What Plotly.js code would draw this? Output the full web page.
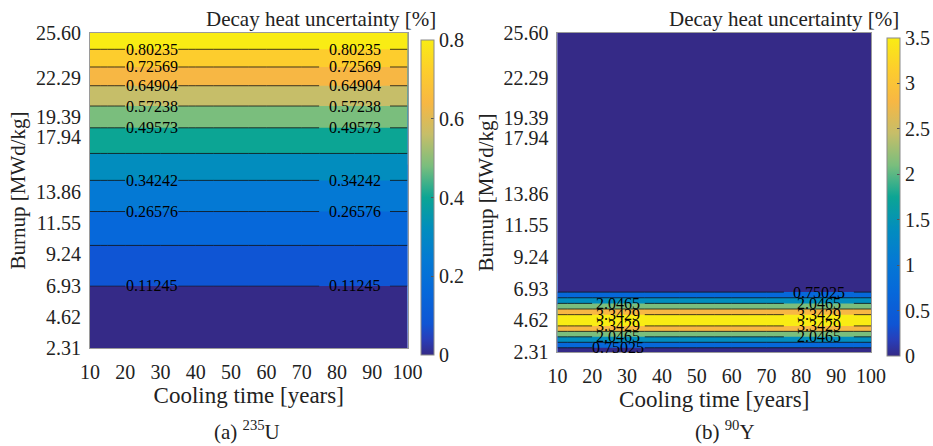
<!DOCTYPE html>
<html>
<head>
<meta charset="utf-8">
<script src="https://cdn.plot.ly/plotly-3.0.1.min.js"></script>
<style>html,body{margin:0;padding:0;background:#fff;}#chart{width:933px;height:446px;}</style>
</head>
<body>
<div id="chart"></div>
<script>
// ---- data ----
const coolingTime = [10, 15, 20, 25, 30, 35, 40, 45, 50, 55, 60, 65, 70, 75, 80, 85, 90, 95, 100];
const burnup = [2.31, 4.62, 6.93, 9.24, 11.55, 13.86, 17.94, 19.39, 22.29, 25.60];
// decay heat uncertainty [%] vs burnup (same for every cooling time)
const u235Uncertainty = [0.036, 0.070, 0.113, 0.169, 0.240, 0.310, 0.467, 0.531, 0.679, 0.873];
const y90Uncertainty = [0.25, 4.00, 0.36, 0.12, 0.10, 0.09, 0.08, 0.08, 0.07, 0.07];
const u235Levels = [0.11245, 0.18911, 0.26576, 0.34242, 0.41907, 0.49573, 0.57238, 0.64904, 0.72569, 0.80235];
const y90Levels = [0.75025, 1.3984, 2.0465, 2.6947, 3.3429];
// which label slots (0 = left, 1 = right) each crossing of each level carries
const u235LabelSlots = [[[0, 1]], [[]], [[0, 1]], [[0, 1]], [[]], [[0, 1]], [[0, 1]], [[0, 1]], [[0, 1]], [[0, 1]]];
const y90LabelSlots = [[[0], [1]], [[], []], [[0, 1], [0, 1]], [[], []], [[0, 1], [0, 1]]];
const xTickVals = [10, 20, 30, 40, 50, 60, 70, 80, 90, 100];
const yTickVals = burnup;

// ---- style ----
const FONT = 'Liberation Serif';
const labelGaps = [[20, 35], [75, 95]];   // cooling-time spans kept open for the labels
const parula = [
  [0.00, 'rgb(53,42,135)'],
  [0.05, 'rgb(40,62,185)'],
  [0.10, 'rgb(15,85,212)'],
  [0.20, 'rgb(6,104,218)'],
  [0.30, 'rgb(4,121,212)'],
  [0.40, 'rgb(2,141,190)'],
  [0.50, 'rgb(12,165,148)'],
  [0.60, 'rgb(122,190,125)'],
  [0.70, 'rgb(198,190,105)'],
  [0.80, 'rgb(247,183,68)'],
  [0.90, 'rgb(253,205,45)'],
  [1.00, 'rgb(249,236,20)']
];

function rowsOf(profile, rows, xs) {
  return rows.map(i => xs.map(() => profile[i]));
}

function crossings(profile, lv) {
  const out = [];
  for (let i = 0; i < profile.length - 1; i++) {
    const a = profile[i] - lv, b = profile[i + 1] - lv;
    if (a * b < 0) {
      out.push({i: i, b: burnup[i] + (lv - profile[i]) / (profile[i + 1] - profile[i]) * (burnup[i + 1] - burnup[i])});
    }
  }
  return out;
}

function pieces(slots) {
  const x0 = coolingTime[0], x1 = coolingTime[coolingTime.length - 1];
  const gaps = slots.map(s => labelGaps[s]).sort((a, b) => a[0] - b[0]);
  const res = [];
  let start = x0;
  gaps.forEach(g => { res.push([start, g[0]]); start = g[1]; });
  res.push([start, x1]);
  return res;
}

function panel(profile, levels, labelSlots, xa, ya, cmax, cbX, cbTop, cbLen, dtick) {
  const allRows = burnup.map((b, i) => i);
  const z = rowsOf(profile, allRows, coolingTime);
  const step = (levels[levels.length - 1] - levels[0]) / (levels.length - 1);
  const traces = [];
  const notes = [];
  // heatmap underneath, only to provide the continuous colorbar
  traces.push({
    type: 'heatmap', x: coolingTime, y: burnup, z: z, xaxis: xa, yaxis: ya,
    colorscale: parula, zmin: 0, zmax: cmax, hoverinfo: 'skip',
    colorbar: {
      x: cbX, xanchor: 'left', y: cbTop, yanchor: 'top', len: cbLen, lenmode: 'fraction',
      thickness: 13, xpad: 0, ypad: 0, outlinecolor: '#8a8a8a', outlinewidth: 1,
      dtick: dtick, tick0: 0, ticks: 'inside', ticklen: 3, tickcolor: '#555',
      tickfont: {family: FONT, size: 20, color: '#222'}
    }
  });
  // filled contour bands
  traces.push({
    type: 'contour', x: coolingTime, y: burnup, z: z, xaxis: xa, yaxis: ya,
    colorscale: parula, showscale: false, autocontour: false,
    contours: {start: levels[0], end: levels[levels.length - 1], size: step, coloring: 'fill', showlines: false},
    line: {width: 0}, hoverinfo: 'skip'
  });
  // contour lines with open gaps where the labels sit
  const lineTrace = (xs, rows, lv) => ({
    type: 'contour', x: xs, y: rows.map(r => burnup[r]), z: rowsOf(profile, rows, xs),
    xaxis: xa, yaxis: ya, showscale: false, autocontour: false,
    contours: {start: lv, end: lv + 0.5 * step, size: 10 * step, coloring: 'none', showlines: true, showlabels: false},
    line: {color: '#111', width: 0.8}, hoverinfo: 'skip'
  });
  levels.forEach((lv, k) => {
    const cr = crossings(profile, lv);
    const anyLabel = labelSlots[k].some(s => s.length);
    if (!anyLabel) {
      traces.push(lineTrace(coolingTime, allRows, lv));
      return;
    }
    cr.forEach((c, j) => {
      const slots = labelSlots[k][j] || [];
      pieces(slots).forEach(p => {
        const xs = coolingTime.filter(t => t >= p[0] && t <= p[1]);
        if (xs.length >= 2) traces.push(lineTrace(xs, [c.i, c.i + 1], lv));
      });
      slots.forEach(s => {
        notes.push({
          text: String(lv), xref: xa, yref: ya.replace('y', 'y'),
          x: (labelGaps[s][0] + labelGaps[s][1]) / 2, y: c.b,
          xanchor: 'center', yanchor: 'middle', showarrow: false,
          font: {family: FONT, size: 16, color: '#000'}
        });
      });
    });
  });
  return {traces: traces, notes: notes};
}

const pU = panel(u235Uncertainty, u235Levels, u235LabelSlots, 'x', 'y', 0.8, 421/933, 1 - 40/446, 315/446, 0.2);
const pY = panel(y90Uncertainty, y90Levels, y90LabelSlots, 'x2', 'y2', 3.5, 887/933, 1 - 38/446, 318/446, 0.5);
const data = pU.traces.concat(pY.traces);

function xAxis(domain, anchor) {
  return {
    domain: domain, anchor: anchor, range: [10, 100], tickvals: xTickVals,
    showline: true, mirror: true, linecolor: '#9a9a9a', linewidth: 1,
    showgrid: false, zeroline: false, ticks: '', ticklabelstandoff: 6,
    tickfont: {family: FONT, size: 20, color: '#222'},
    title: {text: 'Cooling time [years]', font: {family: FONT, size: 23, color: '#222'}, standoff: 4}
  };
}
function yAxis(domain, anchor) {
  return {
    domain: domain, anchor: anchor, range: [2.31, 25.60], tickvals: yTickVals, tickformat: '.2f',
    showline: true, mirror: true, linecolor: '#9a9a9a', linewidth: 1,
    showgrid: false, zeroline: false, ticks: '', ticklabelstandoff: 4,
    tickfont: {family: FONT, size: 20, color: '#222'},
    title: {text: 'Burnup [MWd/kg]', font: {family: FONT, size: 21, color: '#222'}, standoff: 4}
  };
}

const layout = {
  width: 933, height: 446,
  margin: {l: 0, r: 0, t: 0, b: 0},
  font: {family: FONT, size: 20, color: '#222'},
  paper_bgcolor: '#fff', plot_bgcolor: '#fff',
  showlegend: false,
  xaxis: xAxis([90/933, 408/933], 'y'),
  yaxis: yAxis([1 - 348/446, 1 - 33/446], 'x'),
  xaxis2: xAxis([558/933, 872/933], 'y2'),
  yaxis2: yAxis([1 - 352/446, 1 - 33/446], 'x2'),
  annotations: pU.notes.concat(pY.notes, [
    {text: 'Decay heat uncertainty [%]', xref: 'paper', yref: 'paper', x: 438/933, y: 1 - 19/446,
     xanchor: 'right', yanchor: 'middle', showarrow: false, font: {family: FONT, size: 21, color: '#222'}},
    {text: 'Decay heat uncertainty [%]', xref: 'paper', yref: 'paper', x: 902/933, y: 1 - 19/446,
     xanchor: 'right', yanchor: 'middle', showarrow: false, font: {family: FONT, size: 21, color: '#222'}},
    {text: '(a) <sup>235</sup>U', xref: 'paper', yref: 'paper', x: 247/933, y: 1 - 430/446,
     xanchor: 'center', yanchor: 'middle', showarrow: false, font: {family: FONT, size: 21, color: '#222'}},
    {text: '(b) <sup>90</sup>Y', xref: 'paper', yref: 'paper', x: 726/933, y: 1 - 430/446,
     xanchor: 'center', yanchor: 'middle', showarrow: false, font: {family: FONT, size: 21, color: '#222'}}
  ])
};

Plotly.newPlot('chart', data, layout, {staticPlot: true, displayModeBar: false});
</script>
</body>
</html>
